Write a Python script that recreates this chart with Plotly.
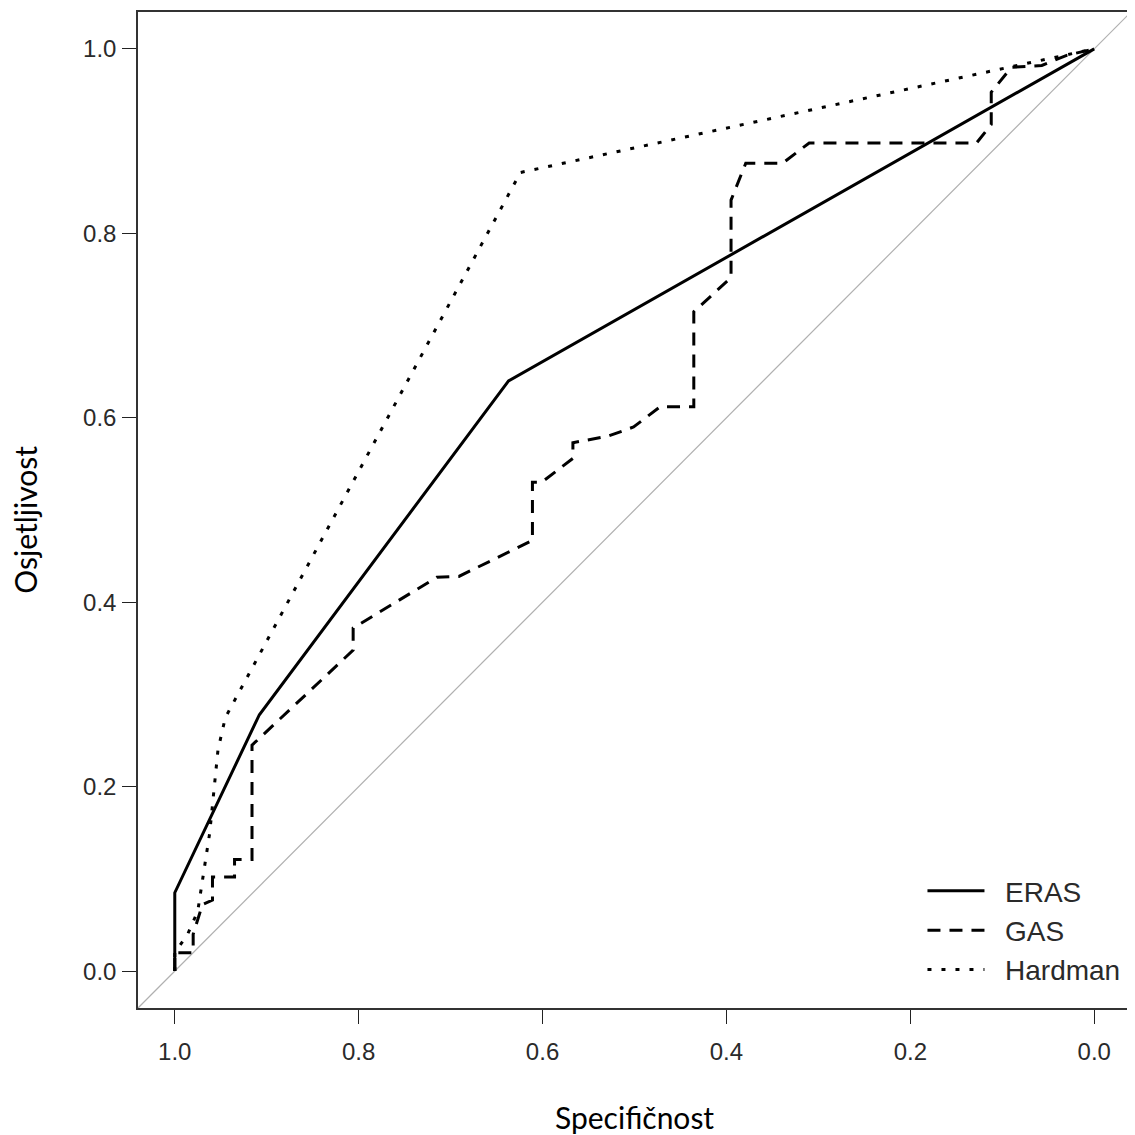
import plotly.graph_objects as go

# ROC curves (specificity, sensitivity)
eras_spec = [1.000, 1.000, 0.908, 0.637, 0.000]
eras_sens = [0.000, 0.085, 0.278, 0.640, 1.000]

gas_spec = [1.000, 1.000, 0.980, 0.980, 0.970, 0.959, 0.959, 0.935, 0.935, 0.916, 0.916,
            0.806, 0.806, 0.715, 0.691, 0.611, 0.611, 0.601, 0.567, 0.567, 0.529, 0.501,
            0.472, 0.4355, 0.4355, 0.395, 0.395, 0.379, 0.339, 0.310, 0.128, 0.112, 0.112,
            0.090, 0.057, 0.030, 0.000]
gas_sens = [0.000, 0.020, 0.020, 0.040, 0.072, 0.077, 0.102, 0.102, 0.121, 0.121, 0.245,
            0.348, 0.372, 0.427, 0.428, 0.467, 0.530, 0.530, 0.556, 0.573, 0.580, 0.590,
            0.612, 0.612, 0.715, 0.752, 0.836, 0.876, 0.876, 0.898, 0.898, 0.918, 0.953,
            0.980, 0.982, 0.993, 1.000]

hard_spec = [1.000, 1.000, 0.986, 0.975, 0.962, 0.953, 0.945, 0.624, 0.000]
hard_sens = [0.000, 0.020, 0.040, 0.065, 0.150, 0.240, 0.275, 0.866, 1.000]

tick_vals = [0.0, 0.2, 0.4, 0.6, 0.8, 1.0]
tick_text = ["0.0", "0.2", "0.4", "0.6", "0.8", "1.0"]

series_names = ["ERAS", "GAS", "Hardman"]
pad = "\u00a0\u00a0"  # spacing between legend line sample and label

fig = go.Figure()
fig.add_trace(go.Scatter(x=eras_spec, y=eras_sens, mode="lines", name=pad + series_names[0],
                         legendgroup="a", line=dict(color="black", width=3)))
fig.add_trace(go.Scatter(x=gas_spec, y=gas_sens, mode="lines", name=pad + series_names[1],
                         legendgroup="b", line=dict(color="black", width=3, dash="13px,9px")))
fig.add_trace(go.Scatter(x=hard_spec, y=hard_sens, mode="lines", name=pad + series_names[2],
                         legendgroup="c", line=dict(color="black", width=3, dash="4px,10px")))

# identity reference line corner to corner of the (square) plotting region
fig.add_shape(type="line", xref="x domain", yref="y domain", x0=0, y0=0, x1=1, y1=1,
              line=dict(color="#b0b0b0", width=1.2), layer="below")

axis_common = dict(
    tickvals=tick_vals, ticktext=tick_text, ticks="outside", ticklen=14, tickwidth=1.3,
    tickcolor="#222", showgrid=False, zeroline=False, showline=True, linecolor="#333",
    linewidth=1.5, mirror=True, tickfont=dict(family="Arial", size=24, color="#2a2a2a"),
)

fig.update_layout(
    width=1127, height=1127,
    margin=dict(l=130, r=2, t=2, b=127),
    plot_bgcolor="white", paper_bgcolor="white",
    xaxis=dict(range=[1.04, -0.04], ticklabelstandoff=7, **axis_common),
    yaxis=dict(range=[-0.04, 1.04], ticklabelstandoff=1, **axis_common),
    showlegend=True,
    legend=dict(x=0.790, y=0.013, xanchor="left", yanchor="bottom", bgcolor="rgba(0,0,0,0)",
                font=dict(family="Arial", size=28, color="#2a2a2a"), itemwidth=57,
                borderwidth=0, tracegroupgap=0),
    annotations=[
        dict(text="Specifičnost", xref="paper", yref="paper", x=0.5, y=-0.109,
             xanchor="center", yanchor="middle", showarrow=False,
             font=dict(family="Lato", size=30, color="black")),
        dict(text="Osjetljivost", xref="paper", yref="paper", x=-0.114, y=0.49,
             xanchor="center", yanchor="middle", showarrow=False, textangle=-90,
             font=dict(family="Lato", size=30, color="black")),
    ],
)

fig.write_html("out.html")
